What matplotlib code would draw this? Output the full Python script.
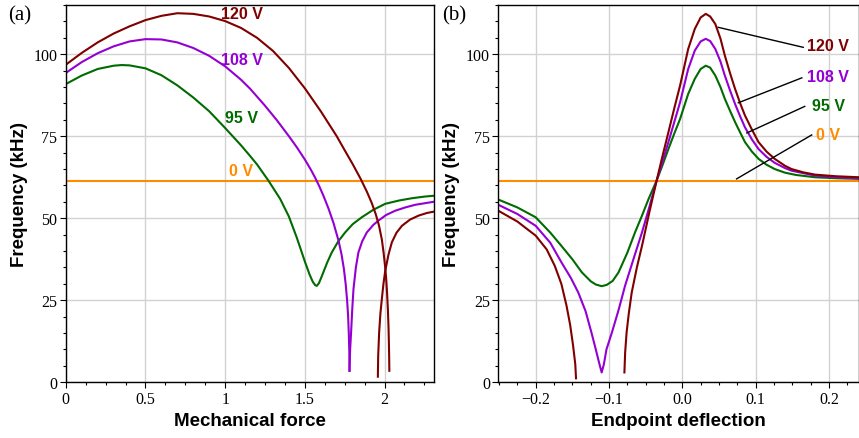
import matplotlib.pyplot as plt
from matplotlib.ticker import MultipleLocator

# colours per voltage
c120 = "#800000"
c108 = "#9400d3"
c95 = "#006b00"
c0 = "#ff8c00"

# ---- panel (a): frequency vs mechanical force ----
f0_level = 61.5

a_force_120 = [0.0, 0.1, 0.2, 0.3, 0.4, 0.5, 0.6, 0.7, 0.8, 0.9, 1.0, 1.1, 1.2, 1.3,
               1.4, 1.5, 1.6, 1.7, 1.742, 1.8, 1.85, 1.89, 1.92, 1.945, 1.965,
               1.983, 1.994, 2.004, 2.011, 2.016, 2.021, 2.025, 2.027, 2.029, 2.030]
a_freq_120 = [96.8, 100.4, 103.6, 106.3, 108.5, 110.4, 111.7, 112.5, 112.3, 111.5,
              110.1, 108.0, 105.0, 101.0, 95.8, 89.6, 82.6, 75.0, 71.4, 66.5,
              62.0, 58.0, 54.6, 51.2, 47.8, 43.5, 39.5, 35.0, 31.0, 27.0, 22.0,
              16.5, 12.5, 7.5, 3.5]
a_force_120b = [1.958, 1.960, 1.966, 1.974, 1.983, 1.993, 2.004, 2.025, 2.046, 2.075,
                2.109, 2.16, 2.213, 2.265, 2.318]
a_freq_120b = [1.7, 8.0, 15.2, 21.0, 25.4, 30.0, 33.9, 39.0, 42.7, 45.6,
               47.7, 49.6, 50.8, 51.6, 52.1]

a_force_108 = [0.0, 0.1, 0.2, 0.3, 0.4, 0.5, 0.6, 0.7, 0.8, 0.9, 1.0, 1.1, 1.156,
               1.25, 1.324, 1.4, 1.45, 1.5, 1.54, 1.564, 1.59, 1.617, 1.648, 1.68,
               1.711, 1.73, 1.745, 1.756, 1.765, 1.771, 1.776, 1.779, 1.780]
a_freq_108 = [94.3, 97.6, 100.3, 102.4, 103.9, 104.6, 104.5, 103.6, 101.9, 99.5,
              96.3, 92.2, 89.5, 84.3, 79.9, 75.0, 71.6, 67.9, 64.6, 62.4, 59.8,
              56.8, 53.0, 48.5, 43.2, 39.0, 34.5, 30.0, 25.0, 20.5, 14.5, 9.0, 3.5]
a_force_108b = [1.780, 1.784, 1.790, 1.797, 1.805, 1.82, 1.836, 1.86, 1.889, 1.93,
                1.962, 2.01, 2.067, 2.13, 2.192, 2.318]
a_freq_108b = [3.5, 10.0, 15.2, 22.0, 28.4, 35.0, 39.6, 43.0, 45.7, 48.0,
               49.3, 51.0, 52.3, 53.3, 54.1, 55.1]

a_force_95 = [0.0, 0.1, 0.2, 0.3, 0.35, 0.4, 0.5, 0.6, 0.7, 0.8, 0.9, 1.0, 1.1,
              1.156, 1.2, 1.271, 1.345, 1.4, 1.45, 1.5, 1.53, 1.55, 1.565, 1.575,
              1.588, 1.606, 1.64, 1.669, 1.71, 1.753, 1.8, 1.857, 1.93, 2.004, 2.09,
              2.171, 2.25, 2.318]
a_freq_95 = [90.9, 93.5, 95.5, 96.5, 96.7, 96.6, 95.7, 93.6, 90.5, 86.8, 82.6,
             77.5, 72.2, 69.0, 66.4, 61.5, 55.9, 50.5, 44.0, 36.8, 32.8, 30.6,
             29.6, 29.4, 30.2, 32.3, 36.5, 39.6, 43.0, 45.7, 48.2, 50.3, 52.6,
             54.4, 55.4, 56.1, 56.6, 56.9]

# ---- panel (b): frequency vs endpoint deflection ----
b_defl_120 = [-0.251, -0.225, -0.2, -0.185, -0.174, -0.165, -0.158, -0.153, -0.149,
              -0.146, -0.145]
b_freq_120 = [52.3, 49.0, 44.7, 40.5, 35.5, 30.0, 23.4, 17.5, 11.2, 5.5, 1.2]
b_defl_120b = [-0.079, -0.078, -0.076, -0.073, -0.069, -0.062, -0.055, -0.045, -0.035,
               -0.027, -0.019, -0.011, -0.003, 0.008, 0.017, 0.025, 0.032, 0.038,
               0.045, 0.052, 0.058, 0.065, 0.072, 0.079, 0.0855, 0.095, 0.104, 0.115,
               0.126, 0.14, 0.149, 0.165, 0.181, 0.21, 0.241]
b_freq_120b = [3.0, 9.0, 15.2, 21.0, 27.4, 35.0, 41.6, 51.8, 61.5,
               69.0, 76.2, 83.5, 90.5, 101.6, 107.7, 111.2, 112.3, 111.5,
               109.2, 104.8, 99.6, 94.3, 89.4, 85.0, 81.3, 77.0, 73.2, 70.3,
               68.1, 66.0, 65.0, 64.0, 63.3, 62.8, 62.5]

b_defl_108 = [-0.251, -0.225, -0.2, -0.18, -0.165, -0.152, -0.142, -0.132, -0.124,
              -0.118, -0.113, -0.110, -0.107, -0.1035, -0.096, -0.087, -0.078, -0.066,
              -0.055, -0.045, -0.035, -0.027, -0.019, -0.011, -0.003, 0.008, 0.017,
              0.025, 0.032, 0.038, 0.045, 0.052, 0.058, 0.065, 0.072, 0.079, 0.0855,
              0.095, 0.104, 0.115, 0.126, 0.14, 0.149, 0.181, 0.21, 0.241]
b_freq_108 = [54.1, 51.3, 47.7, 42.5, 36.6, 31.8, 27.4, 21.7, 15.2,
              10.0, 5.5, 3.0, 5.5, 10.0, 15.2, 22.0, 29.5, 38.0,
              45.7, 53.4, 61.5, 67.3, 73.2, 79.3, 85.4, 95.5, 101.1,
              103.9, 104.7, 104.0, 101.6, 97.8, 93.5, 89.0, 84.8, 81.0, 77.7,
              74.0, 71.1, 68.7, 66.9, 65.3, 64.5, 63.0, 62.5, 62.2]

b_defl_95 = [-0.251, -0.225, -0.2, -0.18, -0.165, -0.15, -0.137, -0.125, -0.118,
             -0.110, -0.103, -0.095, -0.087, -0.075, -0.0645, -0.055, -0.046, -0.035,
             -0.027, -0.019, -0.011, -0.003, 0.008, 0.017, 0.025, 0.032, 0.038,
             0.045, 0.052, 0.058, 0.065, 0.072, 0.079, 0.0855, 0.095, 0.104, 0.115,
             0.126, 0.14, 0.155, 0.181, 0.21, 0.241]
b_freq_95 = [55.7, 53.3, 50.3, 45.6, 41.6, 37.5, 33.5, 30.8, 29.8,
             29.3, 29.7, 30.9, 33.5, 39.5, 45.7, 50.8, 55.9, 61.5,
             66.2, 71.1, 75.8, 80.3, 87.9, 92.5, 95.5, 96.5, 95.9,
             93.5, 90.0, 86.4, 82.8, 79.3, 76.1, 73.2, 70.3, 68.1, 66.3,
             65.0, 63.9, 63.2, 62.5, 62.2, 62.0]

voltage_labels = ["120 V", "108 V", "95 V", "0 V"]
label_colors = [c120, c108, c95, c0]
a_label_x = [1.104, 1.104, 1.104, 1.10]
a_label_y = [112.3, 98.3, 80.8, 64.5]
b_label_x = [0.199, 0.199, 0.200, 0.199]
b_label_y = [102.7, 93.3, 84.3, 75.4]
b_leader_start = [(0.165, 102.1), (0.163, 92.8), (0.167, 84.1), (0.1765, 75.4)]
b_leader_end = [(0.049, 108.2), (0.0764, 85.2), (0.088, 76.0), (0.074, 62.0)]

serif = "Liberation Serif"
sans = "Liberation Sans"
lw = 1.5

fig = plt.figure(figsize=(8.59, 4.39), dpi=100)
ax1 = fig.add_axes([0.0766, 0.1269, 0.4286, 0.8594])
ax2 = fig.add_axes([0.5801, 0.1269, 0.4199, 0.8594])


def style_axes(ax, xmajor, xminor):
    ax.set_ylim(0, 115)
    ax.yaxis.set_major_locator(MultipleLocator(25))
    ax.yaxis.set_minor_locator(MultipleLocator(5))
    ax.xaxis.set_major_locator(MultipleLocator(xmajor))
    ax.xaxis.set_minor_locator(MultipleLocator(xminor))
    ax.grid(True, which="major", color="#d2d2d2", lw=1)
    ax.set_axisbelow(True)
    ax.tick_params(which="major", direction="out", length=4, width=0.8,
                   labelsize=11.5, pad=2)
    ax.tick_params(which="minor", direction="out", length=2.5, width=0.8)
    for lab in ax.get_xticklabels() + ax.get_yticklabels():
        lab.set_family(serif)
    for s in ax.spines.values():
        s.set_linewidth(1.0)
    ax.set_ylabel("Frequency (kHz)", fontsize=13.5, fontweight="bold",
                  family=sans, labelpad=4)


# panel (a)
ax1.axhline(f0_level, color=c0, lw=lw)
ax1.plot(a_force_95, a_freq_95, color=c95, lw=lw)
ax1.plot(a_force_108, a_freq_108, color=c108, lw=lw)
ax1.plot(a_force_108b, a_freq_108b, color=c108, lw=lw)
ax1.plot(a_force_120, a_freq_120, color=c120, lw=lw)
ax1.plot(a_force_120b, a_freq_120b, color=c120, lw=lw)
ax1.set_xlim(0, 2.31)
style_axes(ax1, 0.5, 0.125)
ax1.set_xticks([0, 0.5, 1, 1.5, 2])
ax1.set_xticklabels(["0", "0.5", "1", "1.5", "2"], family=serif)
ax1.set_xlabel("Mechanical force", fontsize=13.5, fontweight="bold", family=sans)
for t, c, x, y in zip(voltage_labels, label_colors, a_label_x, a_label_y):
    ax1.text(x, y, t, color=c, fontsize=11.5, fontweight="bold", family=sans,
             ha="center", va="center")

# panel (b)
ax2.axhline(f0_level, color=c0, lw=lw)
ax2.plot(b_defl_95, b_freq_95, color=c95, lw=lw)
ax2.plot(b_defl_108, b_freq_108, color=c108, lw=lw)
ax2.plot(b_defl_120, b_freq_120, color=c120, lw=lw)
ax2.plot(b_defl_120b, b_freq_120b, color=c120, lw=lw)
ax2.set_xlim(-0.251, 0.241)
style_axes(ax2, 0.1, 0.025)
ax2.set_xticks([-0.2, -0.1, 0.0, 0.1, 0.2])
ax2.set_xticklabels(["\u22120.2", "\u22120.1", "0.0", "0.1", "0.2"], family=serif)
ax2.set_xlabel("Endpoint deflection", fontsize=13.5, fontweight="bold", family=sans)
for t, c, x, y, p0, p1 in zip(voltage_labels, label_colors, b_label_x, b_label_y,
                              b_leader_start, b_leader_end):
    ax2.plot([p0[0], p1[0]], [p0[1], p1[1]], color="black", lw=1)
    ax2.text(x, y, t, color=c, fontsize=11.5, fontweight="bold", family=sans,
             ha="center", va="center")

fig.text(0.009, 0.965, "(a)", fontsize=15, family=serif, va="center")
fig.text(0.515, 0.965, "(b)", fontsize=15, family=serif, va="center")

fig.savefig("out.png", dpi=100)
plt.close(fig)
